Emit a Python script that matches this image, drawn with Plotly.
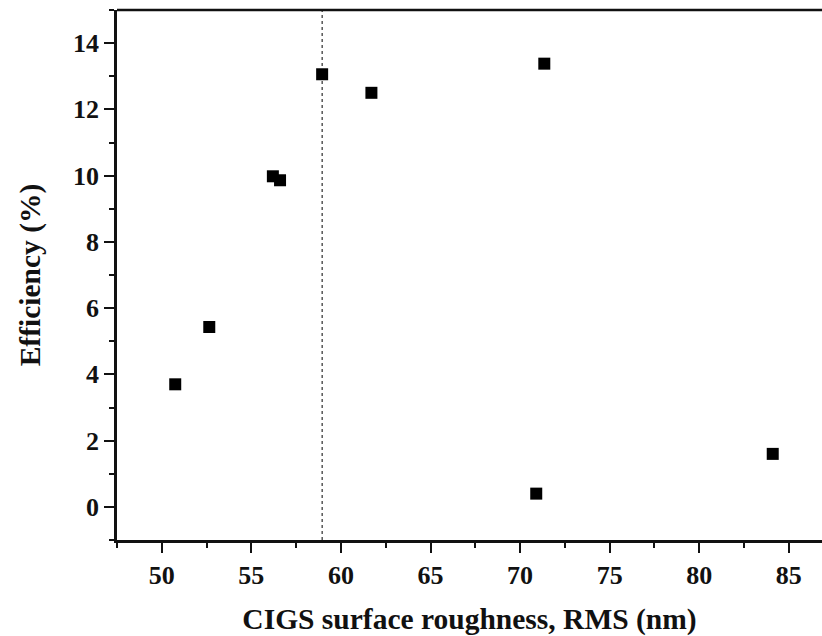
import plotly.graph_objects as go

# Device efficiency vs. absorber surface roughness
roughness_nm = [50.75, 52.65, 56.2, 56.6, 58.95, 61.7, 71.35, 70.9, 84.1]
efficiency_pct = [3.70, 5.43, 9.98, 9.86, 13.06, 12.50, 13.38, 0.40, 1.60]
threshold_nm = 58.95

x_ticks = [50, 55, 60, 65, 70, 75, 80, 85]
y_ticks = [0, 2, 4, 6, 8, 10, 12, 14]

font_family = "Liberation Serif"
ink = "#111111"
tick_font = dict(family=font_family, size=26, color=ink)
title_font = dict(family=font_family, size=29.5, color=ink)

fig = go.Figure()

fig.add_trace(go.Scatter(
    x=roughness_nm, y=efficiency_pct, mode="markers",
    marker=dict(symbol="square", size=12, color="black", line=dict(width=0)),
    showlegend=False, cliponaxis=False,
))

# Dotted reference line across the full height
fig.add_shape(type="line", xref="x", yref="paper",
              x0=threshold_nm, x1=threshold_nm, y0=0, y1=1,
              line=dict(color="black", width=1, dash="dot"))

# Top frame line
fig.add_shape(type="line", xref="paper", yref="paper",
              x0=0, x1=1, y0=1, y1=1,
              line=dict(color=ink, width=2.5))

fig.update_layout(
    width=822, height=636,
    margin=dict(l=117, r=0, t=10, b=96),
    plot_bgcolor="white", paper_bgcolor="white",
    font=dict(family=font_family, size=26, color=ink),
    xaxis=dict(
        range=[47.5, 86.85],
        tickmode="array", tickvals=x_ticks, ticktext=[f"<b>{v}</b>" for v in x_ticks],
        tickfont=tick_font,
        showgrid=False, zeroline=False, showline=True,
        linecolor=ink, linewidth=2.5,
        ticks="outside", ticklen=10, tickwidth=2, tickcolor=ink,
        minor=dict(ticks="outside", ticklen=5, tickwidth=2, tickcolor=ink,
                   dtick=2.5, tick0=47.5),
        title=dict(text="<b>CIGS surface roughness, RMS (nm)</b>",
                   font=title_font, standoff=24),
    ),
    yaxis=dict(
        range=[-1, 15],
        tickmode="array", tickvals=y_ticks, ticktext=[f"<b>{v}</b>" for v in y_ticks],
        tickfont=tick_font,
        showgrid=False, zeroline=False, showline=True,
        linecolor=ink, linewidth=2.5,
        ticks="outside", ticklen=10, tickwidth=2, tickcolor=ink,
        minor=dict(ticks="outside", ticklen=5, tickwidth=2, tickcolor=ink,
                   dtick=1, tick0=-1),
        title=dict(text="<b>Efficiency (%)</b>", font=title_font, standoff=24),
    ),
)

fig.write_html("out.html")
